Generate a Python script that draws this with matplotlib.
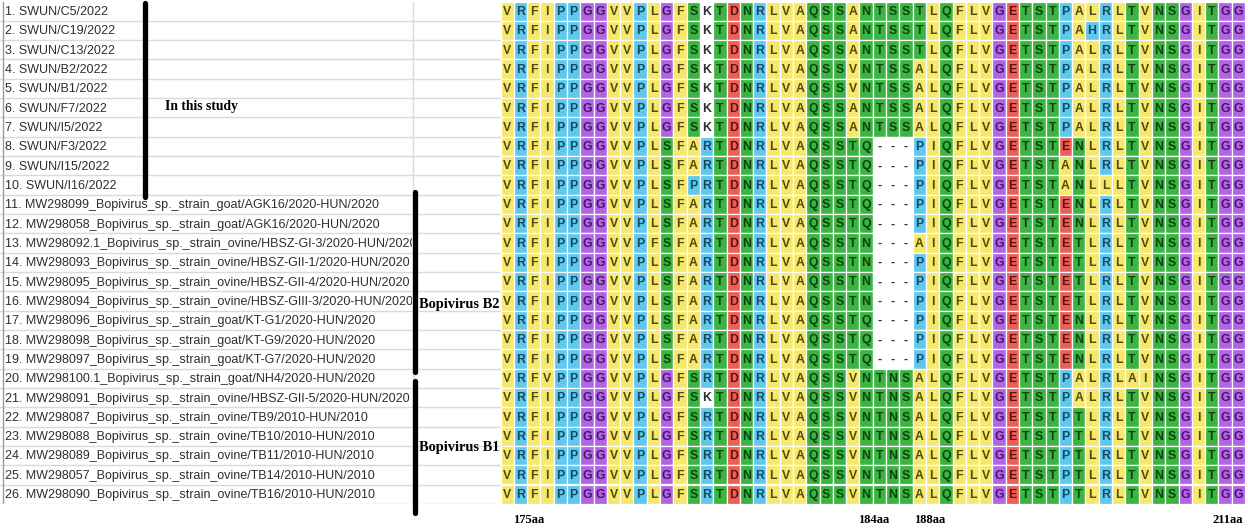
import matplotlib
matplotlib.use("Agg")
import matplotlib.pyplot as plt
from matplotlib.patches import Rectangle

# ---------------- data ----------------
names = [
    "1. SWUN/C5/2022",
    "2. SWUN/C19/2022",
    "3. SWUN/C13/2022",
    "4. SWUN/B2/2022",
    "5. SWUN/B1/2022",
    "6. SWUN/F7/2022",
    "7. SWUN/I5/2022",
    "8. SWUN/F3/2022",
    "9. SWUN/I15/2022",
    "10. SWUN/I16/2022",
    "11. MW298099_Bopivirus_sp._strain_goat/AGK16/2020-HUN/2020",
    "12. MW298058_Bopivirus_sp._strain_goat/AGK16/2020-HUN/2020",
    "13. MW298092.1_Bopivirus_sp._strain_ovine/HBSZ-GI-3/2020-HUN/2020",
    "14. MW298093_Bopivirus_sp._strain_ovine/HBSZ-GII-1/2020-HUN/2020",
    "15. MW298095_Bopivirus_sp._strain_ovine/HBSZ-GII-4/2020-HUN/2020",
    "16. MW298094_Bopivirus_sp._strain_ovine/HBSZ-GIII-3/2020-HUN/2020",
    "17. MW298096_Bopivirus_sp._strain_goat/KT-G1/2020-HUN/2020",
    "18. MW298098_Bopivirus_sp._strain_goat/KT-G9/2020-HUN/2020",
    "19. MW298097_Bopivirus_sp._strain_goat/KT-G7/2020-HUN/2020",
    "20. MW298100.1_Bopivirus_sp._strain_goat/NH4/2020-HUN/2020",
    "21. MW298091_Bopivirus_sp._strain_ovine/HBSZ-GII-5/2020-HUN/2020",
    "22. MW298087_Bopivirus_sp._strain_ovine/TB9/2010-HUN/2010",
    "23. MW298088_Bopivirus_sp._strain_ovine/TB10/2010-HUN/2010",
    "24. MW298089_Bopivirus_sp._strain_ovine/TB11/2010-HUN/2010",
    "25. MW298057_Bopivirus_sp._strain_ovine/TB14/2010-HUN/2010",
    "26. MW298090_Bopivirus_sp._strain_ovine/TB16/2010-HUN/2010",
]

sequences = [
    "VRFIPPGGVVPLGFSKTDNRLVAQSSANTSSTLQFLVGETSTPALRLTVNSGITGG",
    "VRFIPPGGVVPLGFSKTDNRLVAQSSANTSSTLQFLVGETSTPAHRLTVNSGITGG",
    "VRFIPPGGVVPLGFSKTDNRLVAQSSANTSSTLQFLVGETSTPALRLTVNSGITGG",
    "VRFIPPGGVVPLGFSKTDNRLVAQSSVNTSSALQFLVGETSTPALRLTVNSGITGG",
    "VRFIPPGGVVPLGFSKTDNRLVAQSSVNTSSALQFLVGETSTPALRLTVNSGITGG",
    "VRFIPPGGVVPLGFSKTDNRLVAQSSANTSSALQFLVGETSTPALRLTVNSGITGG",
    "VRFIPPGGVVPLGFSKTDNRLVAQSSANTSSALQFLVGETSTPALRLTVNSGITGG",
    "VRFIPPGGVVPLSFARTDNRLVAQSSTQ---PIQFLVGETSTENLRLTVNSGITGG",
    "VRFIPPGGVVPLSFARTDNRLVAQSSTQ---PIQFLVGETSTANLRLTVNSGITGG",
    "VRFIPPGGVVPLSFPRTDNRLVAQSSTQ---PIQFLVGETSTANLLLTVNSGITGG",
    "VRFIPPGGVVPLSFARTDNRLVAQSSTQ---PIQFLVGETSTENLRLTVNSGITGG",
    "VRFIPPGGVVPLSFARTDNRLVAQSSTQ---PIQFLVGETSTENLRLTVNSGITGG",
    "VRFIPPGGVVPFSFARTDNRLVAQSSTN---AIQFLVGETSTETLRLTVNSGITGG",
    "VRFIPPGGVVPLSFARTDNRLVAQSSTN---PIQFLVGETSTETLRLTVNSGITGG",
    "VRFIPPGGVVPLSFARTDNRLVAQSSTN---PIQFLVGETSTETLRLTVNSGITGG",
    "VRFIPPGGVVPLSFARTDNRLVAQSSTN---PIQFLVGETSTETLRLTVNSGITGG",
    "VRFIPPGGVVPLSFARTDNRLVAQSSTQ---PIQFLVGETSTENLRLTVNSGITGG",
    "VRFIPPGGVVPLSFARTDNRLVAQSSTQ---PIQFLVGETSTENLRLTVNSGITGG",
    "VRFIPPGGVVPLSFARTDNRLVAQSSTQ---PIQFLVGETSTENLRLTVNSGITGG",
    "VRFVPPGGVVPLGFSRTDNRLVAQSSVNTNSALQFLVGETSTPALRLAINSGITGG",
    "VRFIPPGGVVPLGFSKTDNRLVAQSSVNTNSALQFLVGETSTPALRLTVNSGITGG",
    "VRFIPPGGVVPLGFSRTDNRLVAQSSVNTNSALQFLVGETSTPTLRLTVNSGITGG",
    "VRFIPPGGVVPLGFSRTDNRLVAQSSVNTNSALQFLVGETSTPTLRLTVNSGITGG",
    "VRFIPPGGVVPLGFSRTDNRLVAQSSVNTNSALQFLVGETSTPTLRLTVNSGITGG",
    "VRFIPPGGVVPLGFSRTDNRLVAQSSVNTNSALQFLVGETSTPTLRLTVNSGITGG",
    "VRFIPPGGVVPLGFSRTDNRLVAQSSVNTNSALQFLVGETSTPTLRLTVNSGITGG",
]

group_labels = ["In this study", "Bopivirus B2", "Bopivirus B1"]
group_first_row = [0, 10, 20]
group_last_row = [9, 18, 25]

position_labels = ["175aa", "184aa", "188aa", "211aa"]
position_columns = [1.65, 27.6, 31.8, 54.2]

# ---------------- style ----------------
bg_colors = {}
for aa in "AVFILM":
    bg_colors[aa] = ("#f6e86c", "#4f4a10")
for aa in "RPH":
    bg_colors[aa] = ("#5ec8ee", "#16485f")
for aa in "G":
    bg_colors[aa] = ("#b264e4", "#45166a")
for aa in "STNQ":
    bg_colors[aa] = ("#3cb442", "#0c420e")
for aa in "DE":
    bg_colors[aa] = ("#ea6058", "#611010")
for aa in "K-":
    bg_colors[aa] = ("#ffffff", "#303030")

W, H = 1248, 530
top_px = 1.5
pitch = 19.32
nrow = len(sequences)
ncol = len(sequences[0])
bottom_px = top_px + nrow * pitch

fig = plt.figure(figsize=(W / 100, H / 100), dpi=100)
fig.patch.set_facecolor("white")

# ---------------- names panel ----------------
axl = fig.add_axes([0, 1 - bottom_px / H, 500.5 / W, nrow * pitch / H])
axl.set_xlim(0, 500.5)
axl.set_ylim(nrow - 0.5, -0.5)
axl.axis("off")

for i in range(nrow):
    axl.plot([0, 500.5], [i + 0.5, i + 0.5], color="#dadada", lw=1.0)
axl.plot([3, 3], [-0.5, nrow - 0.5], color="#9a9a9a", lw=1.0)
axl.plot([413, 413], [-0.5, nrow - 0.5], color="#dadada", lw=1.0)

# names are cut at the column divider, as in the alignment viewer
axn = fig.add_axes([0, 1 - bottom_px / H, 412 / W, nrow * pitch / H])
axn.set_xlim(0, 412)
axn.set_ylim(nrow - 0.5, -0.5)
axn.axis("off")
axn.patch.set_alpha(0)
for i, nm in enumerate(names):
    axn.text(5, i + 0.05, nm, ha="left", va="center", fontsize=9.0,
             family="Liberation Sans", color="#2e2e2e", clip_on=True)

bar_x = [145, 415, 415]
bar_y0 = [-0.42, 9.36, 19.14]
bar_y1 = [9.62, 18.68, 26.0]
text_x = [165, 419, 419]
text_y = [4.96, 15.2, 22.56]
text_size = [9.8, 10.4, 10.4]
axg = fig.add_axes([0, 1 - bottom_px / H, 500.5 / W, nrow * pitch / H])
axg.set_xlim(0, 500.5)
axg.set_ylim(nrow - 0.5, -0.5)
axg.axis("off")
axg.patch.set_alpha(0)
for k, lab in enumerate(group_labels):
    axg.plot([bar_x[k], bar_x[k]], [bar_y0[k], bar_y1[k]], color="black",
             lw=3.8, solid_capstyle="round", clip_on=False)
    axg.text(text_x[k], text_y[k], lab, ha="left", va="center",
             fontsize=text_size[k], fontweight="bold", family="Liberation Serif",
             color="black", clip_on=False)

# ---------------- alignment panel ----------------
ax = fig.add_axes([500.5 / W, 1 - bottom_px / H, 744.5 / W, nrow * pitch / H])
ax.set_xlim(-0.5, ncol - 0.5)
ax.set_ylim(nrow - 0.5, -0.5)
ax.axis("off")

for r, seq in enumerate(sequences):
    for c, aa in enumerate(seq):
        face, txt = bg_colors.get(aa, ("#ffffff", "#303030"))
        ax.add_patch(Rectangle((c - 0.5, r - 0.5), 1, 1, facecolor=face,
                               edgecolor="white", lw=0.9))
        ax.text(c, r + 0.04, aa, ha="center", va="center", fontsize=8.8,
                fontweight="bold", family="Liberation Sans", color=txt)

for lab, col in zip(position_labels, position_columns):
    ax.text(col, 26.34, lab, ha="center", va="center", fontsize=9,
            fontweight="bold", family="Liberation Serif", color="black",
            clip_on=False)

fig.savefig("out.png", dpi=100, facecolor="white")
